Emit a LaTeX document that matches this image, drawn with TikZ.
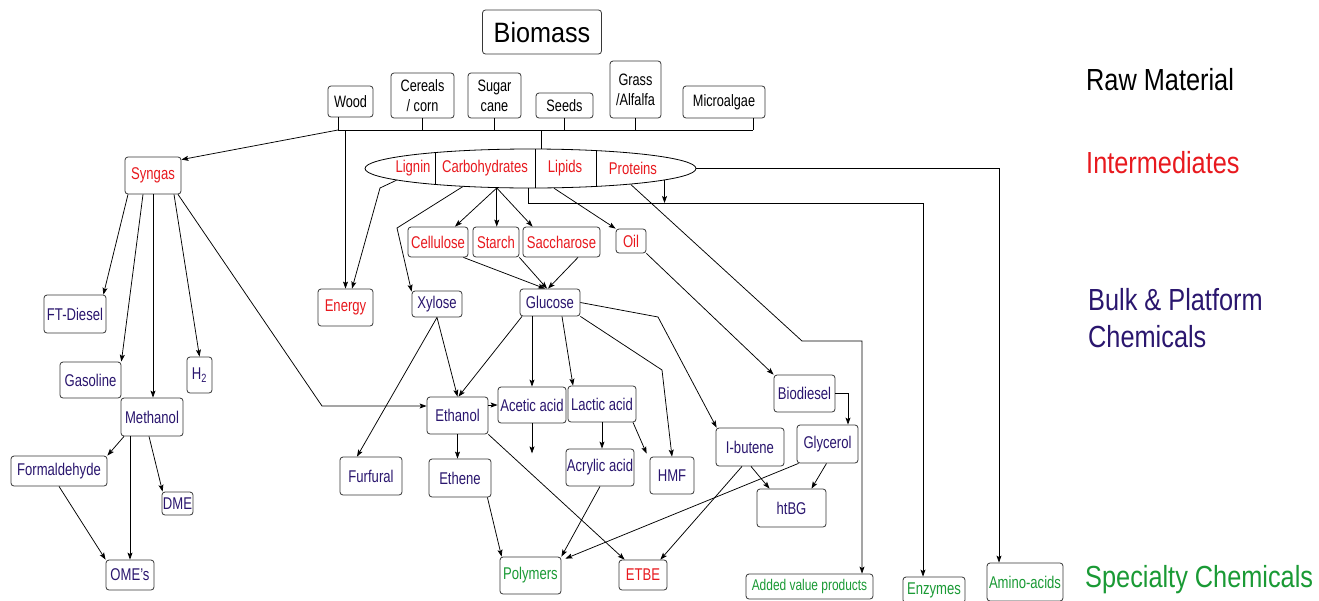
\documentclass[tikz,border=0pt]{standalone}
\usepackage{fontspec}
\setmainfont{Liberation Sans}[FakeStretch=0.77]
\newfontfamily\levelfont{Liberation Sans}[FakeStretch=0.83]
\newfontfamily\titlefont{Liberation Sans}[FakeStretch=0.9]
\usetikzlibrary{arrows.meta,shapes.geometric,calc}
\definecolor{ired}{RGB}{232,25,30}
\definecolor{bnavy}{RGB}{42,22,110}
\definecolor{sgreen}{RGB}{26,154,53}
\definecolor{boxline}{RGB}{55,55,55}
\tikzset{
  box/.style={draw=boxline, line width=0.8pt, rounded corners=3pt, fill=white,
    inner sep=0pt, align=center, font=\fontsize{17}{19}\selectfont},
  wh/.style 2 args={minimum width=#1pt, minimum height=#2pt},
  tred/.style={text=ired},
  tnavy/.style={text=bnavy},
  tgreen/.style={text=sgreen},
  raw/.style={text=black, font=\fontsize{16.5}{20}\selectfont},
  itext/.style={text=ired, inner sep=0pt, font=\fontsize{17}{19}\selectfont},
  level/.style={anchor=base west, inner sep=0pt, font=\levelfont\fontsize{30.5}{34}\selectfont},
  link/.style={draw=black, line width=0.75pt},
  arr/.style={-{Stealth[length=7pt,width=5pt,inset=1.5pt]}}
}
\begin{document}
\begin{tikzpicture}[x=1pt,y=-1pt]
\fill[white] (0,0) rectangle (1319,600);
\useasboundingbox (0,0) rectangle (1319,600);

% ---------- raw materials ----------
\node[box,raw,wh={119}{44},font=\titlefont\fontsize{28}{32}\selectfont] (biomass) at (542,32) {Biomass};
\node[box,raw,wh={45}{31}] (wood) at (350.5,101.5) {Wood};
\node[box,raw,wh={63}{45}] (cereals) at (422.5,95.5) {Cereals\\/ corn};
\node[box,raw,wh={53}{45}] (sugar) at (494.5,95.5) {Sugar\\cane};
\node[box,raw,wh={57}{25}] (seeds) at (564.5,105.5) {Seeds};
\node[box,raw,wh={51}{57}] (grass) at (635.5,89.5) {Grass\\/Alfalfa};
\node[box,raw,wh={82}{32}] (algae) at (724,102) {Microalgae};

\coordinate (busL) at (338,130);
\coordinate (busR) at (753,130);
\coordinate (busE) at (541,130);
\coordinate (woodstub) at ([xshift=-12.5pt]wood.south);
\coordinate (algaestub) at ([xshift=29pt]algae.south);

% ---------- intermediates ----------
\node[ellipse, draw=black, line width=0.8pt, minimum width=331pt, minimum height=39pt, inner sep=0pt] (ell) at (530.5,168.5) {};
\draw[line width=0.8pt] ($(ell.center)+(-95.5,-15.9)$) -- ($(ell.center)+(-95.5,15.9)$);
\draw[line width=0.8pt] ($(ell.center)+(4.5,-19.4)$) -- ($(ell.center)+(4.5,19.4)$);
\draw[line width=0.8pt] ($(ell.center)+(65.5,-17.9)$) -- ($(ell.center)+(65.5,17.9)$);
\node[itext] (lignin) at (413,168) {Lignin};
\node[itext] (carbs) at (485,168) {Carbohydrates};
\node[itext] (lipids) at (565,168) {Lipids};
\node[itext] (proteins) at (633,168) {Proteins};

\node[box,tred,wh={56}{37}] (syngas) at (153,175.5) {Syngas};
\node[box,tred,wh={60}{30}] (cellulose) at (438,242) {Cellulose};
\node[box,tred,wh={46}{30}] (starch) at (496,242) {Starch};
\node[box,tred,wh={77}{30}] (saccharose) at (561.5,242) {Saccharose};
\node[box,tred,wh={30}{24}] (oil) at (631,241) {Oil};
\node[box,tred,wh={55}{37}] (energy) at (345.5,307.5) {Energy};

% ---------- bulk & platform chemicals ----------
\node[box,tnavy,wh={50}{26}] (xylose) at (437,304) {Xylose};
\node[box,tnavy,wh={60}{27}] (glucose) at (550,302.5) {Glucose};
\node[box,tnavy,wh={61}{37}] (ethanol) at (457.5,415.5) {Ethanol};
\node[box,tnavy,wh={68}{36}] (acetic) at (532,405) {Acetic acid};
\node[box,tnavy,wh={68}{36}] (lactic) at (602,404) {Lactic acid};
\node[box,tnavy,wh={68}{37}] (acrylic) at (600,467.5) {Acrylic acid};
\node[box,tnavy,wh={44}{37}] (hmf) at (672,475.5) {HMF};
\node[box,tnavy,wh={62}{38}] (furfural) at (371,476) {Furfural};
\node[box,tnavy,wh={62}{38}] (ethene) at (460,478) {Ethene};
\node[box,tnavy,wh={61}{37}] (biodiesel) at (804.5,393.5) {Biodiesel};
\node[box,tnavy,wh={61}{38}] (glycerol) at (827.5,444) {Glycerol};
\node[box,tnavy,wh={68}{38}] (ibutene) at (750,447) {I-butene};
\node[box,tnavy,wh={69}{38}] (htbg) at (791.5,508) {htBG};

\node[box,tnavy,wh={62}{38}] (ftdiesel) at (75,314) {FT-Diesel};
\node[box,tnavy,wh={61}{36}] (gasoline) at (90.5,380) {Gasoline};
\node[box,tnavy,wh={62}{38}] (methanol) at (152,417) {Methanol};
\node[box,tnavy,wh={25}{36}] (h2) at (199.5,375) {H\textsubscript{2}};
\node[box,tnavy,wh={96}{30}] (formaldehyde) at (59,471) {Formaldehyde};
\node[box,tnavy,wh={31}{23}] (dme) at (177.5,503.5) {DME};
\node[box,tnavy,wh={48}{30}] (omes) at (130,575) {OME’s};

% ---------- specialty chemicals ----------
\node[box,tgreen,wh={61}{37}] (polymers) at (530.5,575.5) {Polymers};
\node[box,tred,wh={48}{30}] (etbe) at (643,575) {ETBE};
\node[box,tgreen,wh={127}{25},font=\fontsize{15.5}{17}\selectfont] (added) at (809.5,586.5) {Added value products};
\node[box,tgreen,wh={62}{26}] (enzymes) at (934,590) {Enzymes};
\node[box,tgreen,wh={76}{38}] (amino) at (1025,582) {Amino-acids};

% ---------- level labels ----------
\node[level,text=black] (lraw) at (1086,90) {Raw Material};
\node[level,text=ired] (linter) at (1086,173) {Intermediates};
\node[level,text=bnavy] (lbulk) at (1088,310) {Bulk \& Platform};
\node[level,text=bnavy] (lchem) at (1088,347) {Chemicals};
\node[level,text=sgreen] (lspec) at (1085,587) {Specialty Chemicals};

% ---------- raw material collector ----------
\draw[link] (busL) -- (busR);
\draw[link] (woodstub) -- (busL);
\draw[link] (algaestub) -- (busR);
\foreach \n in {cereals,sugar,seeds,grass} \draw[link] (\n.south) -- (\n.south |- busL);
\draw[link,arr] (busL) -- ([yshift=-3pt]syngas.north east);
\draw[link,arr] (energy.north |- busL) -- (energy.north);
\draw[link] (busE) -- ([xshift=10.5pt]ell.north);

% ---------- from the intermediates ----------
\coordinate (lb) at (380,188);
\draw[link,arr] (ell.185) -- (lb) -- ([xshift=6.5pt]energy.north);
\coordinate (xb) at (397,228);
\draw[link,arr] (ell.195) -- (xb) -- ([yshift=-1pt]xylose.north west);
\draw[link,arr] (ell.210) -- ([xshift=17pt]cellulose.north);
\draw[link,arr] (ell.210) -- (ell.210 |- starch.north);
\draw[link,arr] (ell.210) -- ([xshift=10pt]saccharose.north west);
\draw[link,arr] (ell.320) -- (oil.north west);
\coordinate (cb) at (528,203);
\coordinate (ec) at (923,203);
\draw[link,arr] ([xshift=-2.5pt]ell.south) -- (cb) -- (ec) -- (ec |- enzymes.north);
\draw[link,arr] (ell.355) -- (ell.355 |- cb);
\coordinate (pa) at (802,341);
\coordinate (pb) at (862,341);
\draw[link,arr] (ell.351) -- (pa) -- (pb) -- (pb |- added.north);
\coordinate (pc) at (999,168.5);
\draw[link,arr] (ell.east) -- (pc) -- (pc |- amino.north);

\draw[link,arr] ([xshift=-5pt]cellulose.south east) -- ([xshift=-5pt]glucose.north);
\draw[link,arr] (starch.south east) -- ([xshift=-3pt]glucose.north);
\draw[link,arr] ([xshift=16.5pt]saccharose.south) -- ([xshift=-2pt]glucose.north);
\draw[link,arr] (oil.south east) -- (biodiesel.north west);

% ---------- syngas route ----------
\draw[link,arr] ([xshift=-25pt]syngas.south) -- ([xshift=-3pt]ftdiesel.north east);
\draw[link,arr] ([xshift=-10pt]syngas.south) -- (gasoline.north east);
\draw[link,arr] (syngas.south) -- (syngas.south |- methanol.north);
\draw[link,arr] ([xshift=21pt]syngas.south) -- (h2.north);
\coordinate (sb) at (322,406);
\draw[link,arr] ([xshift=25pt]syngas.south) -- (sb) -- (sb -| ethanol.west);
\draw[link,arr] ([xshift=-28pt]methanol.south) -- (formaldehyde.north east);
\draw[link,arr] (omes.north |- methanol.south) -- (omes.north);
\draw[link,arr] ([xshift=-3pt]methanol.south) -- ([xshift=1pt]dme.north west);
\draw[link,arr] (formaldehyde.south) -- (omes.north west);

% ---------- sugar platform ----------
\draw[link,arr] (xylose.south) -- (ethanol.north);
\draw[link,arr] ([xshift=-28pt]glucose.south) -- ([xshift=1pt]ethanol.north);
\draw[link,arr] (xylose.south) -- ([xshift=-14pt]furfural.north);
\draw[link,arr] (acetic.north |- glucose.south) -- (acetic.north);
\draw[link,arr] ([xshift=12pt]glucose.south) -- ([xshift=-29pt]lactic.north);
\coordinate (hb) at (662,370);
\draw[link,arr] (glucose.south east) -- (hb) -- (hmf.north);
\coordinate (ib) at (658,317);
\draw[link,arr] (glucose.east) -- (ib) -- ([xshift=1pt]ibutene.north west);
\draw[link,arr] (acetic.west -| ethanol.east) -- (acetic.west);
\draw[link,arr] (acetic.south) -- ++(0,30);
\draw[link,arr] (ethanol.south) -- (ethanol.south |- ethene.north);
\draw[link,arr] (lactic.south) -- (lactic.south |- acrylic.north);
\draw[link,arr] ([xshift=31pt]lactic.south) -- ([xshift=-3pt,yshift=3pt]hmf.north west);
\draw[link,arr] (ethanol.south east) -- ([xshift=6pt]etbe.north west);
\draw[link,arr] ([xshift=-4pt]ethene.south east) -- ([xshift=2pt]polymers.north west);
\draw[link,arr] (acrylic.south) -- (polymers.north east);

% ---------- oil platform ----------
\draw[link,arr] (biodiesel.east) -| ([xshift=20.5pt]glycerol.north);
\draw[link,arr] ([xshift=-29pt]glycerol.south) -- ([xshift=4pt,yshift=-2pt]polymers.north east);
\draw[link,arr] ([xshift=-8pt]ibutene.south) -- ([xshift=-7pt]etbe.north east);
\draw[link,arr] ([xshift=1pt]ibutene.south) -- ([xshift=-22pt]htbg.north);
\draw[link,arr] ([xshift=-1pt]glycerol.south) -- ([xshift=20pt]htbg.north);
\end{tikzpicture}
\end{document}
